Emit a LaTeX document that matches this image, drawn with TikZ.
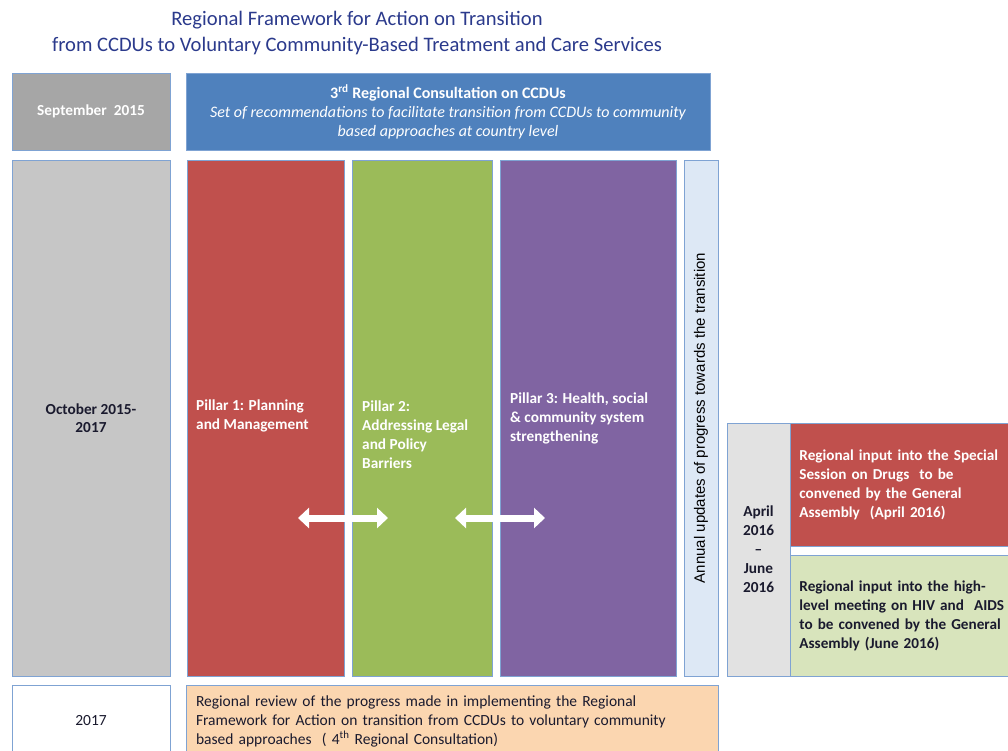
\documentclass[tikz,border=0pt]{standalone}
\usepackage{fontspec}
\setmainfont{Carlito}
\newfontfamily\arialfont{Liberation Sans}
\usetikzlibrary{arrows.meta, positioning, calc}
\definecolor{titleblue}{HTML}{2B3A8C}
\definecolor{frameblue}{HTML}{7FA3D3}
\definecolor{darktext}{HTML}{1A1A2E}
\definecolor{sepgray}{HTML}{A6A6A6}
\definecolor{octgray}{HTML}{C6C6C6}
\definecolor{aprgray}{HTML}{E2E2E2}
\definecolor{consblue}{HTML}{4F81BD}
\definecolor{pillarred}{HTML}{C0504D}
\definecolor{pillargreen}{HTML}{9BBB59}
\definecolor{pillarpurple}{HTML}{8064A2}
\definecolor{annualblue}{HTML}{DDE8F5}
\definecolor{lightgreen}{HTML}{D8E4BC}
\definecolor{peach}{HTML}{FBD6B0}
\tikzset{
  stage/.style={
    rectangle, draw=frameblue, line width=0.8pt, inner sep=0pt,
    align=center, font=\fontsize{15.5}{19}\selectfont
  },
  period/.style={stage, font=\fontsize{15.3}{18.5}\selectfont\bfseries, text=darktext},
  pillar/.style={stage, draw=frameblue},
  pillartext/.style={anchor=west, align=left, text=white, inner sep=0pt,
    font=\fontsize{15.3}{19}\selectfont\bfseries},
  event/.style={stage, anchor=west, align=left, inner xsep=9pt, text width=220pt,
    minimum width=238pt, font=\fontsize{15.2}{19}\selectfont\bfseries},
  link/.style={{Triangle[width=20pt,length=11pt]}-{Triangle[width=20pt,length=11pt]},
    line width=7pt, white},
  titletext/.style={text=titleblue, font=\fontsize{20.6}{26}\selectfont}
}

\begin{document}
\begin{tikzpicture}[x=1pt, y=-1pt]
    \useasboundingbox (0,0) rectangle (1008,751);
    \clip (0,0) rectangle (1008,751);
    % title
    \node[titletext, align=center] (title) at (357,33)
      {Regional Framework for Action on Transition\\
       from CCDUs to Voluntary Community-Based Treatment and Care Services};
    % first row
    \node[stage, fill=sepgray, text=white, font=\fontsize{15.3}{19}\selectfont\bfseries,
      minimum width=158pt, minimum height=77pt] (sep) at (91,111.5) {September\ \ 2015};
    \node[stage, fill=consblue, text=white, minimum width=524pt, minimum height=77pt,
      font=\fontsize{16}{19}\selectfont]
      (cons) at (448,111.5)
      {\textbf{3\textsuperscript{rd} Regional Consultation on CCDUs}\\
       \itshape Set of recommendations to facilitate transition from CCDUs to community\\
       \itshape based approaches at country level};
    % pillars
    \node[period, fill=octgray, minimum width=158pt, minimum height=516pt]
      (oct) at (91,418) {October 2015-\\2017};
    \node[pillar, fill=pillarred, minimum width=157pt, minimum height=516pt]
      (p1) at (265.5,418) {};
    \node[pillar, fill=pillargreen, minimum width=140pt, minimum height=516pt]
      (p2) at (422,418) {};
    \node[pillar, fill=pillarpurple, minimum width=176pt, minimum height=516pt]
      (p3) at (588,418) {};
    \node[stage, fill=annualblue, minimum width=34pt, minimum height=516pt]
      (ann) at (701,418) {};
    \node[rotate=90, font=\arialfont\fontsize{15}{17}\selectfont] (anntxt)
      at (ann.center) {Annual updates of progress towards the transition};
    \node[pillartext] (p1txt) at (196,415.5) {Pillar 1: Planning\\and Management};
    \node[pillartext] (p2txt) at (362,434.5) {Pillar 2:\\Addressing Legal\\and Policy\\Barriers};
    \node[pillartext] (p3txt) at (510,418.5)
      {Pillar 3: Health, social\\\& community system\\strengthening};
    % links between pillars
    \coordinate (l12w) at (298,518);
    \coordinate (l12e) at (388,518);
    \coordinate (l23w) at (455,518);
    \coordinate (l23e) at (545,518);
    \draw[link] (l12w) -- (l12e);
    \draw[link] (l23w) -- (l23e);
    % high-level events
    \node[period, fill=aprgray, minimum width=63pt, minimum height=253pt,
      font=\fontsize{15.3}{19}\selectfont\bfseries]
      (apr) at (758.5,549.5) {April\\2016\\--\\June\\2016};
    \node[event, fill=pillarred, text=white, minimum height=123pt] (ssd) at (790,484.5)
      {Regional input into the Special\\Session on Drugs\ \ to be\\convened by the General\\Assembly\ \ (April 2016)};
    \node[event, fill=lightgreen, text=darktext, minimum height=121pt] (hlm) at (790,615.5)
      {Regional input into the high-\\level meeting on HIV and\ \ AIDS\\to be convened by the General\\Assembly (June 2016)};
    % last row
    \node[stage, fill=white, text=darktext, minimum width=158pt, minimum height=72pt]
      (y17) at (91,721) {2017};
    \node[stage, fill=peach, text=darktext, align=left, inner xsep=10pt, text width=512pt,
      minimum width=532pt, minimum height=72pt] (rev) at (452,721)
      {Regional review of the progress made in implementing the Regional\\
       Framework for Action on transition from CCDUs to voluntary community\\
       based approaches\ \ ( 4\textsuperscript{th} Regional Consultation)};
\end{tikzpicture}
\end{document}
